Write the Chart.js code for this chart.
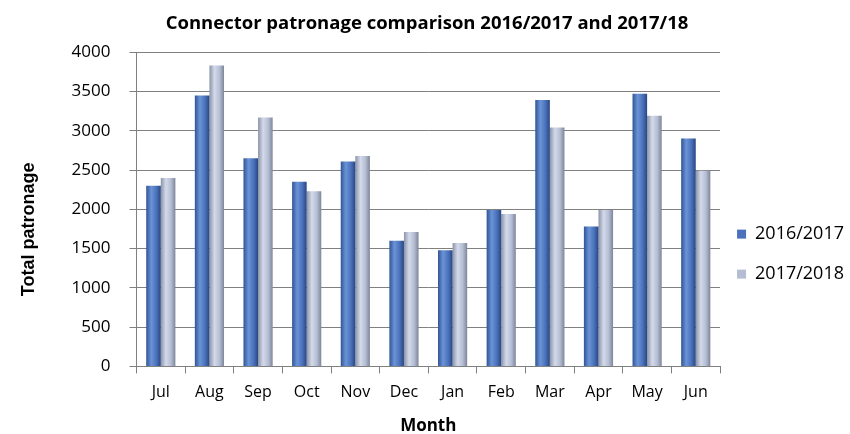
<!DOCTYPE html>
<html>
<head>
<meta charset="utf-8">
<script src="https://cdn.jsdelivr.net/npm/chart.js@4.4.1/dist/chart.umd.min.js"></script>
<style>
  html, body { margin: 0; padding: 0; background: #fff; }
  #wrap { width: 850px; height: 434px; }
</style>
</head>
<body>
<div id="wrap"><canvas id="miGrafico" width="850" height="434"></canvas></div>
<script>
const months = ['Jul', 'Aug', 'Sep', 'Oct', 'Nov', 'Dec', 'Jan', 'Feb', 'Mar', 'Apr', 'May', 'Jun'];
const patronage1617 = [2300, 3450, 2650, 2350, 2610, 1600, 1480, 1990, 3390, 1780, 3470, 2900];
const patronage1718 = [2400, 3830, 3170, 2230, 2680, 1710, 1570, 1940, 3040, 1990, 3190, 2490];
const yTicks = [0, 500, 1000, 1500, 2000, 2500, 3000, 3500, 4000];

const FONT = '"Open Sans", "DejaVu Sans", sans-serif';

// shade each bar like a cylinder (every bar needs its own options object)
const cylinderPlugin = {
    id: 'cylinder',
    beforeDatasetsDraw(chart) {
        const ctx = chart.ctx;
        const shades = [
            ['#2f5597', '#6b93d6', '#4a72bc', '#2a4680'],
            ['#8a93a8', '#d4daea', '#b4bdd3', '#7d8598']
        ];
        chart.data.datasets.forEach((ds, di) => {
            const meta = chart.getDatasetMeta(di);
            meta.data.forEach(bar => {
                const left = bar.x - bar.width / 2;
                const g = ctx.createLinearGradient(left, 0, left + bar.width, 0);
                g.addColorStop(0, shades[di][0]);
                g.addColorStop(0.35, shades[di][1]);
                g.addColorStop(0.7, shades[di][2]);
                g.addColorStop(1, shades[di][3]);
                bar.options = Object.assign({}, bar.options, { backgroundColor: g });
            });
        });
    }
};

const grafico = new Chart(document.getElementById('miGrafico'), {
    type: 'bar',
    data: {
        labels: months,
        datasets: [
            { label: '2016/2017', data: patronage1617, backgroundColor: '#4a72bc' },
            { label: '2017/2018', data: patronage1718, backgroundColor: '#b4bdd3' }
        ]
    },
    options: {
        responsive: false,
        animation: false,
        categoryPercentage: 0.6,
        barPercentage: 1.0,
        layout: { padding: { left: 0, right: -4, top: 0, bottom: -2 } },
        plugins: {
            title: {
                display: true,
                text: 'Connector patronage comparison 2016/2017 and 2017/18',
                color: '#000',
                font: { family: FONT, size: 18.5, weight: 'bold' },
                padding: { top: 13, bottom: 17 }
            },
            legend: {
                position: 'right',
                title: { display: true, text: ' ', font: { size: 1 }, padding: 38 },
                labels: {
                    color: '#000',
                    font: { family: FONT, size: 18, lineHeight: 23 / 18 },
                    boxWidth: 9,
                    boxHeight: 9,
                    padding: 17,
                    generateLabels: chart => {
                        const items = Chart.defaults.plugins.legend.labels.generateLabels(chart);
                        items.forEach(it => { it.text = [it.text]; });
                        return items;
                    }
                }
            },
            tooltip: { enabled: false }
        },
        scales: {
            x: {
                grid: { display: true, drawOnChartArea: false, offset: true, tickLength: 7, color: '#808080' },
                border: { color: '#808080' },
                ticks: { color: '#000', font: { family: FONT, size: 16 }, padding: 9 },
                title: {
                    display: true, text: 'Month', color: '#000',
                    font: { family: FONT, size: 17, weight: 'bold' },
                    padding: { top: 5, bottom: 0 }
                }
            },
            y: {
                min: 0,
                max: 4000,
                afterBuildTicks: axis => { axis.ticks = yTicks.map(v => ({ value: v })); },
                grid: { color: '#808080', tickLength: 7 },
                border: { color: '#808080' },
                ticks: { color: '#000', font: { family: FONT, size: 17 }, padding: 19, callback: v => v },
                title: {
                    display: true, text: 'Total patronage        ', color: '#000',
                    font: { family: '"Liberation Sans", Arial, sans-serif', size: 18, weight: 'bold' },
                    padding: { top: 18, bottom: 13 }
                }
            }
        }
    },
    plugins: [cylinderPlugin]
});
</script>
</body>
</html>
